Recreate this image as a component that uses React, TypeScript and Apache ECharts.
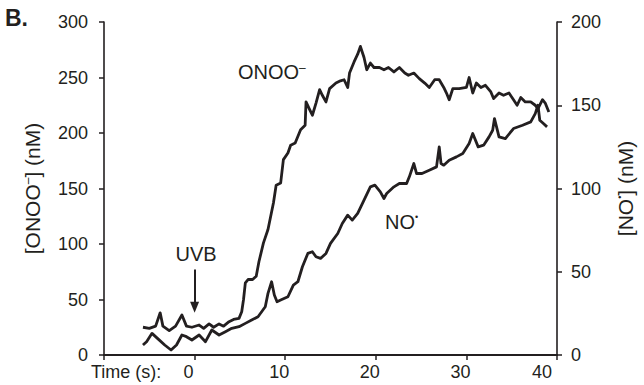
import React, { useEffect, useRef } from "react";
import * as echarts from "echarts";

// Time axis (s)
const xMin = -10;
const xMax = 40;
const xStep = 10;

// Left axis: [ONOO-] (nM)
const leftMax = 300;
const leftStep = 50;
// Right axis: [NO•] (nM)
const rightMax = 200;
const rightStep = 50;

// ONOO- trace (time s, nM)
const onooTime = [-5.7, -5.0, -4.3, -3.8, -3.5, -2.8, -2.1, -1.4, -0.9, -0.3, 0.5, 1.0, 1.6, 2.1, 2.7, 3.2, 3.8, 4.3, 4.9, 5.2, 5.4, 5.6, 5.9, 6.4, 6.8, 7.1, 7.6, 8.1, 8.7, 9.0, 9.5, 9.8, 10.3, 10.6, 11.1, 11.7, 12.2, 12.3, 12.7, 13.0, 13.4, 13.8, 14.1, 14.5, 14.9, 15.6, 16.1, 16.5, 16.9, 17.1, 17.6, 18.0, 18.3, 18.5, 18.7, 19.0, 19.4, 19.8, 20.4, 20.9, 21.4, 22.0, 22.6, 23.2, 23.6, 24.2, 24.8, 25.4, 25.9, 26.5, 27.0, 27.5, 27.8, 28.1, 28.5, 29.2, 30.0, 30.3, 30.7, 31.1, 31.6, 32.1, 32.7, 33.0, 33.6, 34.1, 34.7, 35.2, 35.6, 36.0, 36.5, 37.1, 37.6, 37.9, 38.4, 38.7, 39.1];
const onooValue = [25, 24, 26, 38, 26, 22, 26, 36, 26, 25, 27, 24, 28, 25, 28, 26, 30, 32, 33, 39, 50, 65, 68, 68, 71, 84, 101, 113, 137, 153, 155, 176, 182, 189, 191, 203, 207, 228, 221, 216, 227, 239, 234, 228, 240, 245, 247, 248, 241, 254, 264, 271, 278, 273, 268, 257, 263, 259, 259, 257, 259, 255, 259, 254, 252, 254, 249, 245, 241, 248, 248, 241, 236, 230, 240, 240, 241, 250, 236, 245, 241, 243, 237, 231, 236, 234, 236, 230, 225, 232, 228, 228, 225, 222, 230, 227, 219];

// NO• trace (time s, nM)
const noTime = [-5.7, -5.3, -4.7, -4.1, -3.3, -2.6, -2.0, -1.4, -0.9, -0.3, 0.5, 1.2, 1.9, 2.7, 3.4, 4.1, 4.9, 5.6, 6.3, 7.0, 7.8, 8.1, 8.5, 8.8, 9.1, 9.5, 10.3, 10.9, 11.4, 11.9, 12.5, 13.0, 13.4, 13.9, 14.5, 15.0, 15.8, 16.3, 16.9, 17.4, 18.0, 18.7, 19.4, 19.9, 20.5, 20.9, 21.2, 22.0, 22.6, 23.4, 23.7, 24.2, 24.5, 25.1, 25.9, 26.7, 27.0, 27.2, 27.5, 28.1, 28.9, 29.6, 30.3, 30.7, 31.3, 31.9, 32.5, 32.9, 33.1, 33.6, 34.3, 35.2, 36.2, 37.1, 37.6, 37.9, 38.1, 38.5, 38.9];
const noValue = [6, 8, 13, 10, 6, 3, 6, 12, 11, 9, 12, 8, 15, 12, 14, 16, 17, 19, 21, 23, 29, 37, 44, 36, 32, 33, 35, 42, 44, 53, 61, 62, 59, 58, 61, 67, 73, 79, 84, 81, 85, 93, 101, 102, 98, 94, 97, 101, 103, 103, 107, 115, 109, 109, 111, 113, 125, 115, 114, 117, 119, 121, 127, 133, 125, 126, 131, 135, 142, 131, 130, 136, 138, 140, 145, 150, 141, 139, 137];

// UVB arrow (time s, ONOO- axis nM)
const uvbTime = 0;
const uvbFrom = 77;
const uvbTo = 43;

export default function App() {
  const ref = useRef<HTMLDivElement>(null);

  useEffect(() => {
    if (!ref.current) return;
    const chart = echarts.init(ref.current, null, { renderer: "svg" });
    const font = "'Liberation Sans', Arial, Helvetica, sans-serif";
    const ink = "#231f20";

    const onooData = onooTime.map((t, i) => [t, onooValue[i]]);
    const noData = noTime.map((t, i) => [t, noValue[i]]);

    const richBase = { fontFamily: font, fontSize: 18, color: ink };
    const nameBase = { fontFamily: font, fontSize: 21, color: ink };

    chart.setOption({
      animation: false,
      backgroundColor: "#ffffff",
      textStyle: { fontFamily: font, color: ink },
      grid: { left: 104, right: 82, top: 22, bottom: 30 },
      xAxis: {
        type: "value",
        min: xMin,
        max: xMax,
        interval: xStep,
        splitLine: { show: false },
        axisLine: { show: true, onZero: false, lineStyle: { color: ink, width: 2.2 } },
        axisTick: { show: true, length: 5, lineStyle: { color: ink, width: 1.5 } },
        axisLabel: {
          margin: 8,
          fontSize: 18,
          color: ink,
          fontFamily: font,
          formatter: (v: number) => (v < 0 ? "" : v === 40 ? `{f|${v}}` : `{n|${v}}`),
          rich: {
            n: { ...richBase, padding: [0, 12, 0, 0] },
            f: { ...richBase, padding: [0, 30, 0, 0] },
          },
        },
      },
      yAxis: [
        {
          type: "value",
          position: "left",
          min: 0,
          max: leftMax,
          interval: leftStep,
          splitLine: { show: false },
          axisLine: { show: true, onZero: false, lineStyle: { color: ink, width: 1.6 } },
          axisTick: { show: true, length: 5, lineStyle: { color: ink, width: 1.5 } },
          axisLabel: { margin: 16, fontSize: 18, color: ink, fontFamily: font },
          name: "{a|[ONOO}{s|–}{a|] (nM)}",
          nameLocation: "middle",
          nameRotate: 90,
          nameGap: 61,
          nameTextStyle: {
            rich: {
              a: { ...nameBase },
              s: { fontFamily: font, fontSize: 12, color: ink, verticalAlign: "top" },
            },
          },
        },
        {
          type: "value",
          position: "right",
          min: 0,
          max: rightMax,
          interval: rightStep,
          splitLine: { show: false },
          axisLine: { show: true, onZero: false, lineStyle: { color: ink, width: 1.6 } },
          axisTick: { show: true, length: 5, lineStyle: { color: ink, width: 1.5 } },
          axisLabel: { margin: 14, fontSize: 18, color: ink, fontFamily: font },
          name: "{a|[NO}{s|•}{a|] (nM)}",
          nameLocation: "middle",
          nameRotate: 90,
          nameGap: 58,
          nameTextStyle: {
            rich: {
              a: { ...nameBase },
              s: { fontFamily: font, fontSize: 9, color: ink, verticalAlign: "top" },
            },
          },
        },
      ],
      series: [
        {
          name: "ONOO-",
          type: "line",
          yAxisIndex: 0,
          data: onooData,
          showSymbol: false,
          symbol: "none",
          lineStyle: { color: ink, width: 2.8, join: "round" },
          markLine: {
            silent: true,
            symbol: ["none", "triangle"],
            symbolSize: [9, 11],
            label: { show: false },
            lineStyle: { color: ink, width: 2, type: "solid" },
            itemStyle: { color: ink },
            data: [[{ coord: [uvbTime, uvbFrom] }, { coord: [uvbTime, uvbTo] }]],
          },
        },
        {
          name: "NO",
          type: "line",
          yAxisIndex: 1,
          data: noData,
          showSymbol: false,
          symbol: "none",
          lineStyle: { color: ink, width: 2.8, join: "round" },
        },
      ],
      graphic: [
        {
          type: "text",
          x: 5,
          y: 18,
          style: { text: "B.", fill: ink, font: `bold 23px ${font}`, align: "left", verticalAlign: "middle" },
        },
        {
          type: "text",
          x: 91,
          y: 372,
          style: { text: "Time (s):", fill: ink, font: `18px ${font}`, align: "left", verticalAlign: "middle" },
        },
        {
          type: "text",
          x: 196,
          y: 254,
          style: { text: "UVB", fill: ink, font: `20px ${font}`, align: "center", verticalAlign: "middle" },
        },
        {
          type: "text",
          x: 238,
          y: 72,
          style: {
            text: "{a|ONOO}{s|–}",
            align: "left",
            verticalAlign: "middle",
            rich: {
              a: { fontFamily: font, fontSize: 20, fill: ink },
              s: { fontFamily: font, fontSize: 12, fill: ink, verticalAlign: "top" },
            },
          },
        },
        {
          type: "text",
          x: 385,
          y: 222,
          style: {
            text: "{a|NO}{s|•}",
            align: "left",
            verticalAlign: "middle",
            rich: {
              a: { fontFamily: font, fontSize: 20, fill: ink },
              s: { fontFamily: font, fontSize: 9, fill: ink, verticalAlign: "top" },
            },
          },
        },
      ],
    });

    return () => chart.dispose();
  }, []);

  return (
    <div
      ref={ref}
      style={{ position: "absolute", left: 0, top: 0, width: 644, height: 385, background: "#fff" }}
    />
  );
}
